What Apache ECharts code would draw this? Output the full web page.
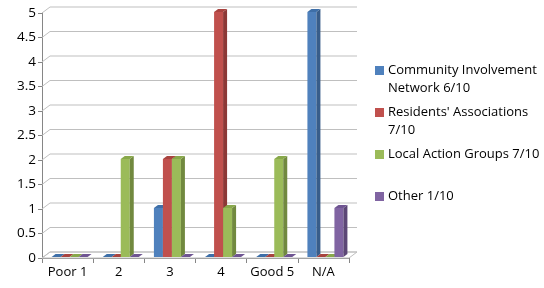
<!DOCTYPE html>
<html>
<head>
<meta charset="utf-8">
<script src="https://cdn.jsdelivr.net/npm/echarts@6/dist/echarts.min.js"></script>
<style>
  html, body { margin: 0; padding: 0; background: #fff; }
  #chart { width: 544px; height: 288px; }
</style>
</head>
<body>
<div id="chart"></div>
<script>
// chart data
var categories = ['Poor 1', '2', '3', '4', 'Good 5', 'N/A'];
var seriesNames = ['Community Involvement Network 6/10', "Residents' Associations 7/10", 'Local Action Groups 7/10', 'Other 1/10'];
var legendLines = [['Community Involvement', 'Network 6/10'], ["Residents' Associations", '7/10'], ['Local Action Groups 7/10', ' '], ['Other 1/10']];
var cinValues = [0, 0, 1, 0, 0, 5];
var residentsValues = [0, 0, 2, 5, 0, 0];
var localActionValues = [0, 2, 2, 1, 2, 0];
var otherValues = [0, 0, 0, 0, 0, 1];
var yTicks = [0, 0.5, 1, 1.5, 2, 2.5, 3, 3.5, 4, 4.5, 5];

var allValues = [cinValues, residentsValues, localActionValues, otherValues];
var colors = ['#4F81BD', '#C0504D', '#9BBB59', '#8064A2'];
var sideColors = ['#385D8A', '#8C3836', '#71893F', '#5C4776'];
var topColors = ['#3E6FA8', '#A8433F', '#88A84A', '#6F5592'];

var DX = 8, DY = 6;      // depth of the walls
var BW = 9;              // bar width
var BDX = 4, BDY = 3;    // bar depth

var chart = echarts.init(document.getElementById('chart'));

function barRenderer(si) {
  return function (params, api) {
    var cat = api.value(0);
    var base = api.coord([cat, 0]);
    var top = api.coord([cat, api.value(1)]);
    var x = base[0] - 2 * BW + si * BW + 2;
    var yb = base[1] - 1;
    var yt = top[1] - 1;
    return {
      type: 'group',
      children: [
        { type: 'rect', shape: { x: x, y: yt, width: BW, height: yb - yt },
          style: { fill: colors[si] } },
        { type: 'polygon', shape: { points: [[x + BW, yt], [x + BW + BDX, yt - BDY], [x + BW + BDX, yb - BDY], [x + BW, yb]] },
          style: { fill: sideColors[si] } },
        { type: 'polygon', shape: { points: [[x, yt], [x + BDX, yt - BDY], [x + BW + BDX, yt - BDY], [x + BW, yt]] },
          style: { fill: topColors[si] } }
      ]
    };
  };
}

function wallRenderer(params, api) {
  var cs = params.coordSys;
  var x0 = cs.x, x1 = cs.x + cs.width;
  var y = api.coord([0, api.value(0)])[1];
  var children = [
    { type: 'polyline', shape: { points: [[x0, y], [x0 + DX, y - DY], [x1 + DX, y - DY]] },
      style: { stroke: '#BFBFBF', lineWidth: 1, fill: null } }
  ];
  if (params.dataIndex === 0) {
    children.unshift({ type: 'polygon',
      shape: { points: [[x0, y], [x1, y], [x1 + DX, y - DY], [x0 + DX, y - DY]] },
      style: { fill: '#fff', stroke: '#BFBFBF', lineWidth: 1 } });
  }
  return { type: 'group', children: children };
}

var series = [{
  type: 'custom',
  name: 'walls',
  renderItem: wallRenderer,
  data: yTicks.map(function (t) { return [t]; }),
  encode: { y: 0 },
  silent: true,
  z: 1
}];
seriesNames.forEach(function (name, i) {
  series.push({
    type: 'custom',
    name: name,
    renderItem: barRenderer(i),
    itemStyle: { color: colors[i] },
    data: allValues[i].map(function (v, j) { return [j, v]; }),
    encode: { x: 0, y: 1 },
    z: 2 + i
  });
});

var rich = { t: { padding: [0, 0, 0, 4], lineHeight: 18 }, p: { width: 9, lineHeight: 18 } };
colors.forEach(function (c, i) {
  rich['s' + i] = { width: 9, height: 9, backgroundColor: c };
});

chart.setOption({
  animation: false,
  textStyle: { fontFamily: 'Open Sans', color: '#000' },
  grid: { left: 42, right: 195, top: 13, bottom: 30 },
  xAxis: {
    type: 'category',
    data: categories,
    axisLine: { lineStyle: { color: '#868686' } },
    axisTick: { show: true, length: 5, lineStyle: { color: '#868686' } },
    axisLabel: { color: '#000', fontSize: 13, margin: 8, interval: 0 },
    splitLine: { show: false }
  },
  yAxis: {
    type: 'value',
    min: 0,
    max: 5,
    interval: 0.5,
    axisLine: { show: true, lineStyle: { color: '#868686' } },
    axisTick: { show: true, length: 4, lineStyle: { color: '#868686' } },
    axisLabel: { color: '#000', fontSize: 13.5, margin: 6 },
    splitLine: { show: false }
  },
  legend: {
    orient: 'vertical',
    left: 365,
    top: 59,
    itemWidth: 0,
    itemHeight: 0,
    itemGap: 11,
    data: seriesNames,
    formatter: function (name) {
      var i = seriesNames.indexOf(name);
      var lines = legendLines[i];
      var s = '{s' + i + '|}{t|' + lines[0] + '}';
      if (lines.length > 1) s += '\n{p| }{t|' + lines[1] + '}';
      return s;
    },
    textStyle: { fontSize: 13, color: '#000', rich: rich }
  },
  series: series
});
</script>
</body>
</html>
